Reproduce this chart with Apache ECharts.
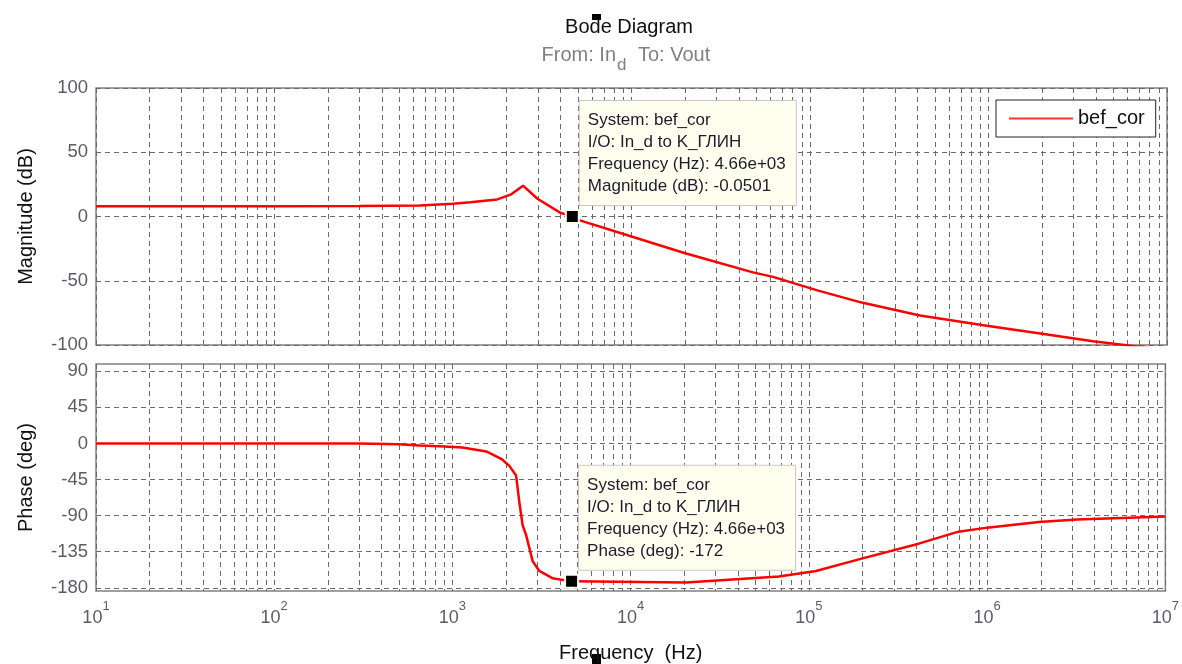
<!DOCTYPE html>
<html>
<head>
<meta charset="utf-8">
<script src="https://cdn.jsdelivr.net/npm/echarts@6/dist/echarts.min.js"></script>
<style>
  html, body { margin: 0; padding: 0; background: #fff; }
  #chart { width: 1182px; height: 664px; }
</style>
</head>
<body>
<div id="chart"></div>
<script>
// magnitude curve (Hz, dB)
const freqMag = [10, 100, 300, 650, 1000, 1250, 1770, 2100, 2470, 2960, 3980, 4660, 5140, 10000, 20000, 47900, 62100, 110000, 195000, 413000, 978000, 1950000, 3850000, 10000000]
const magDb = [8, 8, 8.2, 8.6, 10, 11, 13.3, 17, 24, 14, 3, -0.05, -3, -15.6, -28.6, -43.5, -47, -57.5, -67, -77, -85, -91, -97, -104]
// phase curve (Hz, deg)
const freqPhase = [10, 300, 500, 653, 845, 1137, 1550, 1900, 2085, 2275, 2372, 2476, 2588, 2820, 3072, 3634, 4660, 20470, 47900, 67900, 109600, 195000, 413000, 691000, 1000000, 1950000, 3200000, 10000000]
const phaseDeg = [0, 0, -1, -2.5, -3.5, -5, -10, -20, -28, -40, -73, -102, -114, -147, -159, -168, -172, -173.5, -168, -166, -159, -144, -125, -110, -105, -98, -95, -91]
// data cursor
const cursorFreq = [4660]
const cursorMag = [-0.0501]
const cursorPhase = [-172]
// ticks
const xMajorTicks = [10, 100, 1000, 10000, 100000, 1000000, 10000000]
const magTicks = [-100, -50, 0, 50, 100]
const phaseTicks = [-180, -135, -90, -45, 0, 45, 90]

// log grid lines at 1..9 x 10^n
const xGridTicks = []
for (let e = 1; e < 7; e++) {
    for (let k = 1; k < 10; k++) xGridTicks.push(k * Math.pow(10, e))
}
xGridTicks.push(10000000)

const labelColor = '#5c5c68'
const gridColor = '#6a6a6a'
const boxColor = '#808080'

function zip(xs, ys) {
    return xs.map((x, i) => [x, ys[i]])
}

function xAxisOf(gridIndex, showLabel) {
    return {
        type: 'log',
        logBase: 10,
        gridIndex: gridIndex,
        min: 10,
        max: 10000000,
        axisLine: { show: false },
        axisTick: { show: false, customValues: xGridTicks },
        splitLine: { show: true, lineStyle: { color: gridColor, type: [5, 4], width: 1 } },
        axisLabel: {
            show: showLabel,
            customValues: xMajorTicks,
            margin: 9,
            formatter: (v) => '{b|10}{sup|' + Math.round(Math.log10(v)) + '}',
            rich: {
                b: { fontSize: 18, color: labelColor, fontFamily: 'Liberation Sans', verticalAlign: 'bottom', padding: [9, 0, 0, 0] },
                sup: { fontSize: 13, color: labelColor, fontFamily: 'Liberation Sans', verticalAlign: 'top' }
            }
        },
        name: showLabel ? 'Frequency  (Hz)' : '',
        nameLocation: 'middle',
        nameGap: 52,
        nameTextStyle: { fontSize: 20, color: '#111', fontFamily: 'Liberation Sans' }
    }
}

function cursorLabel(lastLine) {
    return {
        show: true,
        position: [15, -108],
        align: 'left',
        verticalAlign: 'top',
        formatter: [
            'System: bef_cor',
            'I/O: In_d to K_ГЛИН',
            'Frequency (Hz): 4.66e+03',
            lastLine
        ].join('\n'),
        fontSize: 17,
        lineHeight: 22,
        fontFamily: 'Liberation Sans',
        color: '#1c1c2c',
        backgroundColor: '#fffff0',
        borderColor: '#c8c8c8',
        borderWidth: 1,
        padding: [8, 10, 8, 8]
    }
}

const chart = echarts.init(document.getElementById('chart'))
chart.setOption({
    animation: false,
    backgroundColor: '#fff',
    textStyle: { fontFamily: 'Liberation Sans' },
    grid: [
        { left: 96, right: 15, top: 88, height: 257, show: true, borderColor: boxColor, borderWidth: 1.5, backgroundColor: 'transparent' },
        { left: 96, right: 15, top: 364, height: 229, show: true, borderColor: boxColor, borderWidth: 1.5, backgroundColor: 'transparent' }
    ],
    xAxis: [xAxisOf(0, false), xAxisOf(1, true)],
    yAxis: [
        {
            type: 'value',
            gridIndex: 0,
            min: -100,
            max: 100,
            interval: 50,
            axisLine: { show: false },
            axisTick: { show: false, customValues: magTicks },
            axisLabel: { customValues: magTicks, fontSize: 18.5, color: labelColor, margin: 8 },
            splitLine: { lineStyle: { color: gridColor, type: [5, 4] } },
            name: 'Magnitude (dB)',
            nameLocation: 'middle',
            nameGap: 60,
            nameTextStyle: { fontSize: 20, color: '#111' }
        },
        {
            type: 'value',
            gridIndex: 1,
            min: -184,
            max: 99,
            axisLine: { show: false },
            axisTick: { show: false, customValues: phaseTicks },
            axisLabel: { customValues: phaseTicks, fontSize: 18.5, color: labelColor, margin: 8 },
            splitLine: { lineStyle: { color: gridColor, type: [5, 4] } },
            name: 'Phase (deg)',
            nameLocation: 'middle',
            nameGap: 60,
            nameTextStyle: { fontSize: 20, color: '#111' }
        }
    ],
    legend: {
        data: ['bef_cor'],
        left: 996,
        top: 100,
        orient: 'vertical',
        backgroundColor: '#fff',
        borderColor: '#222',
        borderWidth: 1,
        padding: [8, 11, 8, 13],
        icon: 'rect',
        itemWidth: 64,
        itemHeight: 2,
        itemGap: 0,
        itemStyle: { color: '#ff3030' },
        textStyle: { fontSize: 20, color: '#111', fontFamily: 'Liberation Sans', lineHeight: 21 }
    },
    series: [
        {
            name: 'bef_cor',
            type: 'line',
            xAxisIndex: 0,
            yAxisIndex: 0,
            symbol: 'none',
            lineStyle: { color: '#ff0000', width: 2.5 },
            itemStyle: { color: '#ff0000' },
            data: zip(freqMag, magDb)
        },
        {
            name: 'bef_cor',
            type: 'line',
            xAxisIndex: 1,
            yAxisIndex: 1,
            symbol: 'none',
            lineStyle: { color: '#ff0000', width: 2.5 },
            itemStyle: { color: '#ff0000' },
            data: zip(freqPhase, phaseDeg)
        },
        {
            name: 'cursorMag',
            type: 'scatter',
            xAxisIndex: 0,
            yAxisIndex: 0,
            symbol: 'rect',
            symbolSize: 13,
            itemStyle: { color: '#000', opacity: 1, borderColor: '#fffff0', borderWidth: 2 },
            label: cursorLabel('Magnitude (dB): -0.0501'),
            z: 5,
            data: zip(cursorFreq, cursorMag)
        },
        {
            name: 'cursorPhase',
            type: 'scatter',
            xAxisIndex: 1,
            yAxisIndex: 1,
            symbol: 'rect',
            symbolSize: 13,
            itemStyle: { color: '#000', opacity: 1, borderColor: '#fffff0', borderWidth: 2 },
            label: cursorLabel('Phase (deg): -172'),
            z: 5,
            data: zip(cursorFreq, cursorPhase)
        }
    ],
    graphic: [
        { type: 'text', x: 629, y: 27, style: { text: 'Bode Diagram', fontSize: 20, fill: '#111', align: 'center', verticalAlign: 'middle', fontFamily: 'Liberation Sans' } },
        { type: 'text', x: 616, y: 55, style: { text: 'From: In', fontSize: 20, fill: '#808080', align: 'right', verticalAlign: 'middle', fontFamily: 'Liberation Sans' } },
        { type: 'text', x: 617, y: 65, style: { text: 'd', fontSize: 17, fill: '#808080', align: 'left', verticalAlign: 'middle', fontFamily: 'Liberation Sans' } },
        { type: 'text', x: 638, y: 55, style: { text: 'To: Vout', fontSize: 20, fill: '#808080', align: 'left', verticalAlign: 'middle', fontFamily: 'Liberation Sans' } },
        { type: 'rect', shape: { x: 592, y: 14, width: 9, height: 6 }, style: { fill: '#000' } },
        { type: 'rect', shape: { x: 592, y: 654, width: 9, height: 10 }, style: { fill: '#000' } }
    ]
})
</script>
</body>
</html>
